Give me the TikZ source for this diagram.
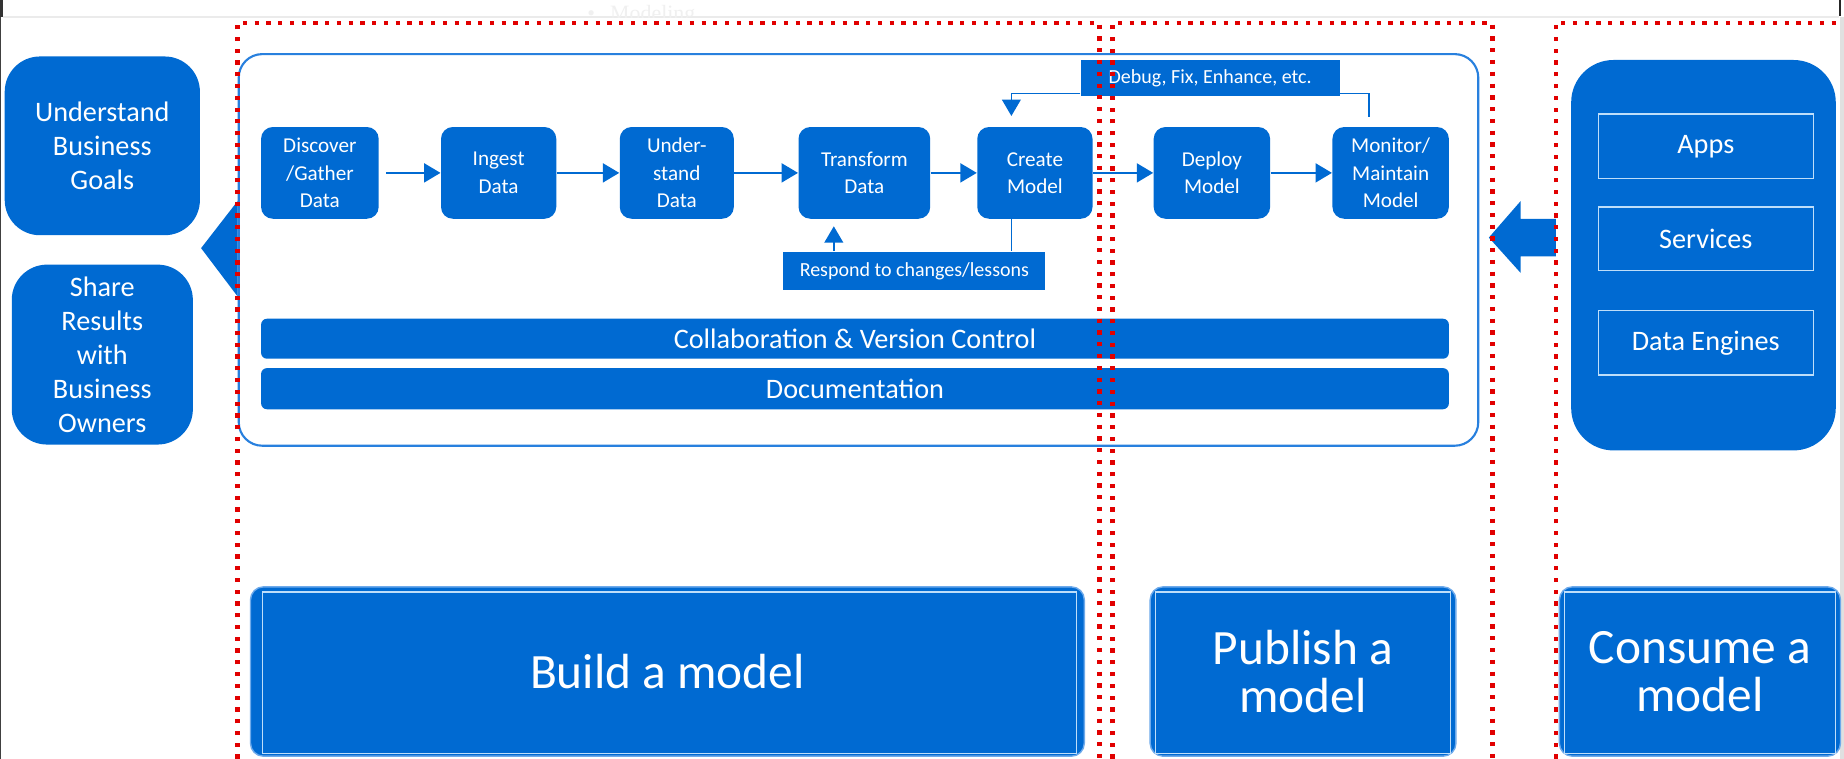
\documentclass[tikz,border=0pt]{standalone}
\usepackage{fontspec}
\setmainfont{Carlito}
\newfontfamily\serifmod{Liberation Serif}
\usetikzlibrary{arrows.meta,calc}
\definecolor{mblue}{RGB}{0,106,210}
\definecolor{lblue}{RGB}{40,128,222}
\definecolor{edgeblue}{RGB}{110,170,235}
\definecolor{paleblue}{RGB}{190,222,250}
\definecolor{reddot}{RGB}{225,0,0}
\begin{document}
\begin{tikzpicture}[x=0.5pt,y=-0.5pt,
  proc/.style={fill=mblue,text=white,rounded corners=5pt,minimum height=39pt,inner sep=0pt,align=center,font=\fontsize{9}{11.6}\selectfont},
  sidebox/.style={fill=mblue,text=white,rounded corners=15pt,inner sep=0pt,align=center,font=\fontsize{12}{14.5}\selectfont},
  bar/.style={fill=mblue,text=white,rounded corners=2.5pt,minimum width=505pt,inner sep=0pt,font=\fontsize{12}{14}\selectfont},
  tag/.style={fill=mblue,text=white,inner sep=0pt,font=\fontsize{8.5}{10}\selectfont},
  appbox/.style={draw=paleblue,line width=0.6pt,minimum width=91.5pt,inner sep=0pt,text=white,font=\fontsize{12}{14}\selectfont},
  stage/.style={fill=mblue,draw=edgeblue,line width=0.6pt,rounded corners=5.5pt,text=white,inner sep=0pt,align=center,minimum height=72pt,font=\fontsize{21}{20.5}\selectfont},
  stageline/.style={draw=paleblue,line width=0.5pt},
  arr/.style={draw=mblue,line width=1.1pt,-{Triangle[length=7pt,width=8pt]}},
  loopline/.style={draw=mblue,line width=0.75pt},
  looparr/.style={draw=mblue,line width=0.75pt,-{Triangle[length=7pt,width=8pt]}},
  reddots/.style={draw=reddot,line width=1.8pt,dash pattern=on 1.8pt off 3.2pt},
]
\useasboundingbox (0,0) rectangle (1568,645);
\fill[white] (0,0) rectangle (1568,645);

% page edges
\fill[black!80] (0,0) rectangle (2.5,14.5);
\fill[black!75] (0,14.5) rectangle (1.2,645);
\draw[black!8,line width=0.5pt] (2.5,14.5) -- (1564,14.5);
\fill[black!12] (1565,14.5) rectangle (1568,645);
\draw[black!85,line width=0.8pt] (1564.5,0) -- (1564.5,14);

% faint heading in the top strip
\begin{scope}
\clip (0,0) rectangle (1568,14.5);
\node[anchor=base west,inner sep=0pt,text=black!6,font=\serifmod\fontsize{9.3}{11}\selectfont] (modl) at (499,17.5) {\textbullet\hskip 6.5pt Modeling};
\end{scope}

% big frame
\node[draw=lblue,line width=0.9pt,rounded corners=10pt,minimum width=527pt,minimum height=166.5pt,inner sep=0pt] (frame) at (730,212.5) {};

% left boxes and pointer
\node[sidebox,minimum width=83pt,minimum height=76pt] (ubg) at (87,124) {Understand\\Business\\Goals};
\node[sidebox,minimum width=77pt,minimum height=76.5pt] (share) at (87,301.5) {Share\\Results\\with\\Business\\Owners};
\fill[mblue] (202,171) -- (171,211) -- (202,252) -- cycle;

% process steps
\node[proc,minimum width=50pt] (disc) at (272,147) {Discover\\/Gather\\Data};
\node[proc,minimum width=49pt] (ing) at (424,147) {Ingest\\Data};
\node[proc,minimum width=48.5pt] (und) at (575.5,147) {Under-\\stand\\Data};
\node[proc,minimum width=56pt] (tr) at (735,147) {Transform\\Data};
\node[proc,minimum width=49pt] (cm) at (880,147) {Create\\Model};
\node[proc,minimum width=49.5pt] (dep) at (1030.5,147) {Deploy\\Model};
\node[proc,minimum width=49.5pt] (mon) at (1182.5,147) {Monitor/\\Maintain\\Model};

\draw[arr,shorten <=3pt] (disc) -- (ing);
\draw[arr] (ing) -- (und);
\draw[arr] (und) -- (tr);
\draw[arr] (tr) -- (cm);
\draw[arr] (cm) -- (dep);
\draw[arr] (dep) -- (mon);

% feedback loops
\node[tag,minimum width=110pt,minimum height=15.5pt] (dbg) at (1029,66.5) {Debug, Fix, Enhance, etc.};
\draw[loopline] ([xshift=-9.25pt,yshift=4.25pt]mon.north) |- ([yshift=1.5pt]dbg.south east);
\draw[looparr,shorten >=4.5pt] ([yshift=1.5pt]dbg.south west) -| ([xshift=-10pt]cm.north);

\node[tag,minimum width=111.5pt,minimum height=16.5pt] (resp) at (777.5,230.5) {Respond to changes/lessons};
\draw[loopline] ([xshift=-10pt]cm.south) -- ([xshift=-10pt]cm.south |- resp.north);
\draw[looparr,shorten >=3pt] ([xshift=-13pt]tr.south |- resp.north) -- ([xshift=-13pt]tr.south);

% bars
\node[bar,minimum height=17pt] (collab) at (727,288) {Collaboration \& Version Control};
\node[bar,minimum height=17.5pt] (docu) at (727,330.5) {Documentation};

% consume container
\node[fill=mblue,rounded corners=18pt,minimum width=112.5pt,minimum height=166pt,inner sep=0pt] (cons) at (1448.5,217) {};
\node[appbox,minimum height=27.5pt] (apps) at (1450.5,124.5) {Apps};
\node[appbox,minimum height=27pt] (serv) at (1450.5,203) {Services};
\node[appbox,minimum height=27.5pt] (deng) at (1450.5,291.5) {Data Engines};

% block arrow from consumers to the frame
\fill[mblue] (1266,202) -- (1293,171) -- (1293,186) -- (1323,186) -- (1323,218) -- (1293,218) -- (1293,232) -- cycle;

% stage boxes
\node[stage,minimum width=354.5pt] (build) at (567.5,571) {Build a model};
\draw[stageline] ([xshift=5.5pt,yshift=-2.5pt]build.north west) rectangle ([xshift=-3.5pt,yshift=1.5pt]build.south east);
\node[stage,minimum width=130pt] (pub) at (1108,571) {Publish a\\model};
\draw[stageline] ([xshift=2.5pt,yshift=-2.5pt]pub.north west) rectangle ([xshift=-2.5pt,yshift=1.5pt]pub.south east);
\node[stage,minimum width=119.5pt] (cons2) at (1445.5,571) {Consume a\\model};
\draw[stageline] ([xshift=2.5pt,yshift=-2.5pt]cons2.north west) rectangle ([xshift=-2.5pt,yshift=1.5pt]cons2.south east);

% red dotted phase outlines
\draw[reddots] (202,645) -- (202,19.5) -- (935,19.5) -- (935,645);
\draw[reddots] (946,645) -- (946,19.5) -- (1269,19.5) -- (1269,645);
\draw[reddots] (1323,645) -- (1323,19.5) -- (1562,19.5);
\end{tikzpicture}
\end{document}
